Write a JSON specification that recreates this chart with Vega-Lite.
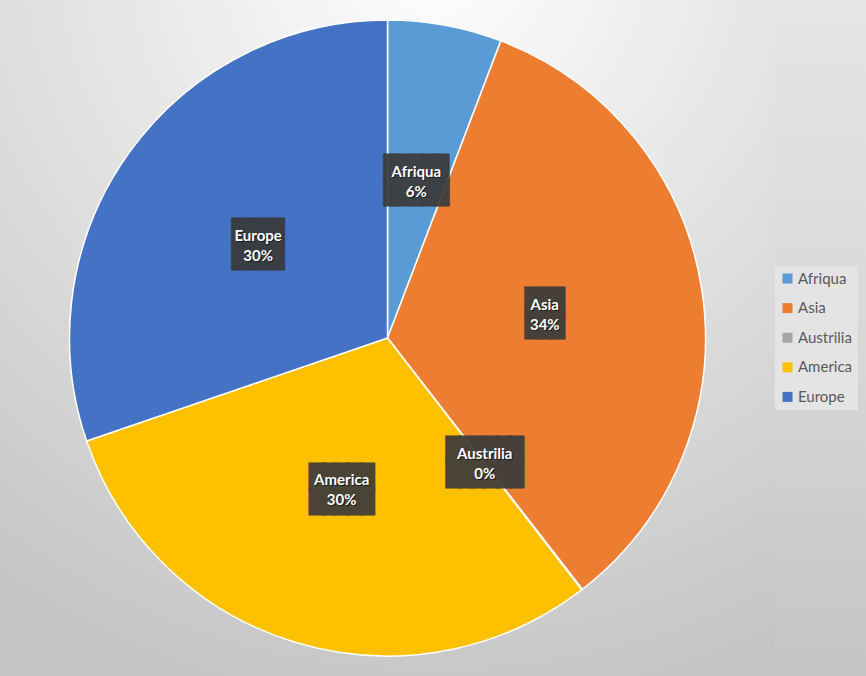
{
  "$schema": "https://vega.github.io/schema/vega-lite/v6.json",
  "padding": 0,
  "spacing": 0,
  "background": "#dcdcdc",
  "config": {"view": {"stroke": null}},
  "hconcat": [
    {
      "width": 775,
      "height": 676,
      "data": {
        "values": [
          {"category": "Afriqua", "value": 5.8},
          {"category": "Asia", "value": 33.7},
          {"category": "Austrilia", "value": 0.05},
          {"category": "America", "value": 30.2},
          {"category": "Europe", "value": 30.25}
        ]
      },
      "transform": [
        {"window": [{"op": "row_number", "as": "idx"}]},
        {"joinaggregate": [{"op": "sum", "field": "value", "as": "total"}]},
        {"calculate": "round(datum.value / datum.total * 100) + '%'", "as": "pct"},
        {"calculate": "[datum.category, datum.pct]", "as": "label"},
        {"calculate": "pad('', round(length(datum.category) * 0.62 + 0.6), '█')", "as": "boxrow"},
        {"calculate": "[datum.boxrow, datum.boxrow]", "as": "box"}
      ],
      "layer": [
        {
          "data": {"values": [{"bg": 1}]},
          "mark": {
            "type": "rect",
            "color": {
              "gradient": "radial",
              "x1": 0.56, "y1": 0.0, "r1": 0,
              "x2": 0.56, "y2": 0.0, "r2": 1.0,
              "stops": [
                {"offset": 0, "color": "#ffffff"},
                {"offset": 1, "color": "#c4c4c4"}
              ]
            }
          },
          "encoding": {}
        },
        {
          "mark": {"type": "arc", "outerRadius": 318, "stroke": "#ffffff", "strokeWidth": 1.5},
          "encoding": {
            "theta": {"field": "value", "type": "quantitative", "stack": true},
            "order": {"field": "idx", "type": "quantitative"},
            "color": {
              "field": "category",
              "type": "nominal",
              "scale": {
                "domain": ["Afriqua", "Asia", "Austrilia", "America", "Europe"],
                "range": ["#5b9bd5", "#ed7d31", "#a5a5a5", "#ffc000", "#4472c4"]
              },
              "legend": {
                "title": null,
                "orient": "none",
                "legendX": 775,
                "legendY": 266,
                "symbolType": "square",
                "symbolSize": 100,
                "symbolStrokeWidth": 0,
                "symbolOpacity": 1,
                "labelFont": "Lato",
                "labelFontSize": 15,
                "labelColor": "#595959",
                "labelOffset": 3,
                "rowPadding": 13.6,
                "padding": 5,
                "fillColor": "#e4e4e4"
              }
            }
          }
        },
        {
          "mark": {
            "type": "text",
            "radius": 159,
            "font": "DejaVu Sans Mono",
            "fontSize": 21,
            "lineHeight": 25,
            "dy": -12.5,
            "fill": "#3a3a3a",
            "stroke": "#3a3a3a",
            "strokeWidth": 3,
            "opacity": 0.92,
            "align": "center",
            "baseline": "middle"
          },
          "encoding": {
            "theta": {"field": "value", "type": "quantitative", "stack": true},
            "order": {"field": "idx", "type": "quantitative"},
            "text": {"field": "box", "type": "nominal"}
          }
        },
        {
          "mark": {
            "type": "text",
            "radius": 159,
            "font": "Lato",
            "fontWeight": "bold",
            "fontSize": 15,
            "lineHeight": 20,
            "dx": 1,
            "dy": -9,
            "fill": "#000000",
            "opacity": 0.6,
            "align": "center",
            "baseline": "middle"
          },
          "encoding": {
            "theta": {"field": "value", "type": "quantitative", "stack": true},
            "order": {"field": "idx", "type": "quantitative"},
            "text": {"field": "label", "type": "nominal"}
          }
        },
        {
          "mark": {
            "type": "text",
            "radius": 159,
            "font": "Lato",
            "fontWeight": "bold",
            "fontSize": 15,
            "lineHeight": 20,
            "dy": -10,
            "fill": "#ffffff",
            "align": "center",
            "baseline": "middle"
          },
          "encoding": {
            "theta": {"field": "value", "type": "quantitative", "stack": true},
            "order": {"field": "idx", "type": "quantitative"},
            "text": {"field": "label", "type": "nominal"}
          }
        }
      ]
    },
    {
      "width": 91,
      "height": 676,
      "data": {"values": [{"bg": 1}]},
      "mark": {
        "type": "rect",
        "color": {
          "gradient": "linear",
          "x1": 0, "y1": 0, "x2": 0, "y2": 1,
          "stops": [
            {"offset": 0, "color": "#e5e5e5"},
            {"offset": 0.5, "color": "#d8d8d8"},
            {"offset": 0.75, "color": "#cecece"},
            {"offset": 1, "color": "#c4c4c4"}
          ]
        }
      },
      "encoding": {}
    }
  ]
}
